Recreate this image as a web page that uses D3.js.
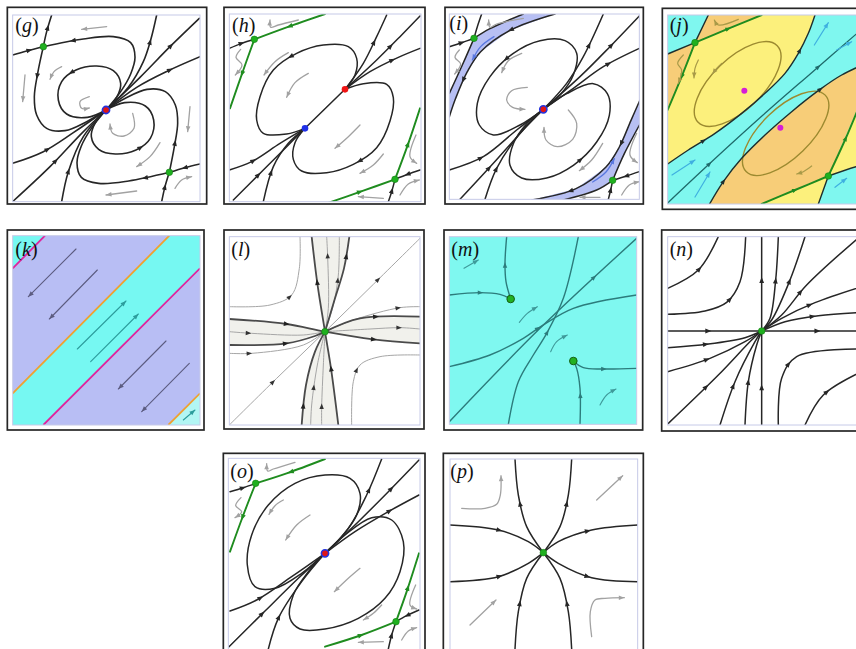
<!DOCTYPE html>
<html><head><meta charset="utf-8">
<script src="https://cdn.jsdelivr.net/npm/d3@7"></script>
<style>body{margin:0;background:#fff}svg{display:block}</style>
</head><body>
<svg id="c" width="856" height="649"></svg>
<script>
// ---------- panel (g) ----------
const gBlack = [
 [[[38,165],[80,153],[130,140]],[0.55]],
 [[[318,330],[362,275],[392,222],[405,172],[392,128],[340,110],[250,117],[130,140]],[0.82]],
 [[[130,140],[140,95],[155,45]],[0.6]],
 [[[130,140],[113,220],[103,290],[110,345],[140,385],[195,392],[260,365],[318,330]],[0.2]],
 [[[318,330],[350,292],[362,250],[340,212],[290,198],[228,210],[185,245],[175,300],[200,342],[262,352],[318,330]],[0.5]],
 [[[318,330],[286,368],[274,410],[296,448],[346,462],[408,450],[451,415],[461,360],[436,318],[374,308],[318,330]],[0.5]],
 [[[508,517],[386,543],[296,550],[244,532],[231,488],[244,438],[274,385],[318,330]],[0.15]],
 [[[508,517],[523,440],[533,370],[526,315],[496,275],[441,268],[376,295],[318,330]],[0.2]],
 [[[600,492],[555,503],[508,517]],[0.5]],
 [[[485,605],[495,560],[508,517]],[0.5]],
 [[[38,490],[130,455],[220,398],[318,330]],[0.35]],
 [[[40,603],[150,500],[245,400],[318,330]],[0.45]],
 [[[185,605],[205,515],[250,410],[318,330]],[0.3]],
 [[[318,330],[385,262],[430,185],[452,120],[470,45]],[0.75]],
 [[[318,330],[420,232],[510,140],[598,55]],[0.7]],
 [[[318,330],[410,262],[505,212],[600,170]],[0.7]]
];
const gHints = [
 [[320,80],[245,88]],
 [[185,200],[162,215],[150,238]],
 [[75,225],[68,305]],
 [[268,290],[240,305],[245,325],[268,324]],
 [[398,340],[402,385],[372,408],[338,400],[330,372]],
 [[570,320],[563,395]],
 [[480,428],[450,470],[410,500]],
 [[410,573],[318,585]],
 [[525,565],[545,540],[575,530]]
];
const gDots = [[318,330,'rb'],[130,140,'g'],[508,517,'g']];

// ---------- panel (h) ----------
const hBlack = [
 [[[375,268],[405,225],[410,175],[385,140],[310,135],[230,160],[160,210],[120,290],[110,360],[130,400],[200,402],[255,385]],[0.45]],
 [[[375,268],[430,251],[500,253],[520,293],[510,363],[470,443],[400,493],[320,518],[245,513],[220,478],[225,428],[255,385]],[0.55]],
 [[[255,385],[375,268]],[]],
 [[[28,510],[95,485],[180,430],[255,385]],[0.3]],
 [[[40,600],[130,510],[200,440],[255,385]],[0.35]],
 [[[130,605],[160,500],[205,430],[255,385]],[0.35]],
 [[[375,268],[430,190],[470,110],[500,45]],[0.65]],
 [[[375,268],[470,180],[540,110],[600,48]],[0.6]],
 [[[375,268],[450,215],[535,172],[600,145]],[0.65]],
 [[[28,145],[65,130],[103,118]],[0.5]],
 [[[600,510],[565,522],[525,538]],[0.5]],
 [[[505,605],[515,575],[525,538]],[0.5]]
];
const hGreen = [
 [[[315,42],[200,82],[103,118]],[0.5]],
 [[[103,118],[70,210],[30,325]],[0.5]],
 [[[525,538],[565,430],[600,325]],[0.5]],
 [[[315,612],[430,572],[525,538]],[0.5]]
];
const hHints = [
 [[205,158],[165,185],[132,225]],
 [[265,220],[225,248],[200,292]],
 [[420,375],[385,410],[345,445]],
 [[490,462],[460,495],[420,520]],
 [[235,60],[175,75],[152,82],[150,60]],
 [[62,148],[48,172],[66,195],[46,225]],
 [[588,405],[570,470],[590,490]],
 [[540,585],[565,552],[598,540]],
 [[490,595],[415,590]]
];
const hDots = [[375,268,'r'],[255,385,'b'],[103,118,'g'],[525,538,'g']];

// ---------- panel (i) ----------
const iBands = [
 [[250,42],[345,42],[212,90],[122,155],[82,215],[47,295],[28,350],[28,280],[67,195],[102,115],[150,86]],
 [[370,600],[275,600],[408,566],[498,501],[538,441],[573,361],[600,300],[600,372],[553,461],[518,541],[470,570]]
];
const iBlack = [
 [[[310,328],[360,285],[400,225],[410,160],[375,122],[300,122],[220,160],[150,230],[112,310],[118,375],[160,405],[240,375],[310,328]],[0.5]],
 [[[310,328],[260,371],[220,431],[210,496],[245,534],[320,534],[400,496],[470,426],[508,346],[502,281],[460,251],[380,281],[310,328]],[0.5]],
 [[[28,510],[130,470],[230,390],[310,328]],[0.3]],
 [[[60,598],[160,490],[245,395],[310,328]],[0.35]],
 [[[135,598],[170,505],[240,400],[310,328]],[0.3]],
 [[[310,328],[380,250],[430,170],[490,42]],[0.7]],
 [[[310,328],[420,230],[510,140],[598,48]],[0.7]],
 [[[310,328],[400,265],[490,200],[598,145]],[0.7]],
 [[[28,140],[65,128],[102,115]],[0.5]],
 [[[102,115],[112,80],[125,42]],[]],
 [[[598,515],[560,528],[518,541]],[0.5]],
 [[[505,598],[512,570],[518,541]],[0.5]],
 [[[345,42],[212,90],[122,155],[82,215],[47,295],[28,350]],[0.3,0.75]],
 [[[600,300],[573,361],[538,441],[498,501],[408,566],[275,600]],[0.3,0.75]],
 [[[102,115],[150,86],[250,42]],[]],
 [[[102,115],[67,195],[28,280]],[]],
 [[[518,541],[553,461],[600,372]],[]],
 [[[518,541],[470,570],[370,600]],[]]
];
const iHints = [
 [[262,262],[215,272],[200,300],[218,322],[255,328]],
 [[385,330],[410,370],[398,418],[352,440],[318,420],[312,382]],
 [[245,160],[205,182],[185,218]],
 [[488,430],[455,480],[418,512]],
 [[250,55],[170,72],[150,82],[146,60]],
 [[58,150],[45,172],[62,192],[44,222]],
 [[590,400],[570,465],[592,488]],
 [[545,585],[568,555],[598,545]],
 [[480,592],[420,592]]
];
const iBlueHints = [
 [[162,110],[122,140],[97,180]],
 [[458,546],[498,516],[523,476]]
];
const iDots = [[310,328,'rb'],[102,115,'g'],[518,541,'g']];

// ---------- panel (j) ----------
const jYellow = [
 [[120,128],[320,45],[480,45],[460,100],[430,160],[390,220],[330,280],[260,340],[180,400],[100,450],[38,492],[38,330]],
 [[320,612],[520,528],[490,612]],
 [[520,528],[612,315],[680,295],[680,485],[603,500]]
];
const jOrange = [
 [[38,162],[120,128],[38,330]],
 [[120,128],[160,45],[320,45]],
 [[162,615],[205,545],[260,475],[330,405],[410,335],[490,272],[560,225],[680,170],[680,295],[612,315],[520,528],[320,612]]
];
const jDark = [
 [[[38,492],[100,450],[180,400],[260,340],[330,280],[390,220],[430,160],[460,100],[480,45]],[0.2,0.82]],
 [[[162,615],[205,545],[260,475],[330,405],[410,335],[490,272],[560,225],[680,170]],[0.12,0.7]],
 [[[38,162],[120,128]],[]],
 [[[120,128],[160,45]],[]],
 [[[520,528],[490,612]],[]],
 [[[520,528],[603,500],[680,480]],[]]
];
const jTeal = [
 [[[38,609],[165,490],[330,340],[470,218],[620,88]],[0.22,0.78]]
];
const jGreen = [
 [[[120,128],[220,86],[320,45]],[0.5]],
 [[[120,128],[80,230],[38,330]],[0.5]],
 [[[520,528],[570,420],[620,300]],[0.5]],
 [[[320,612],[420,570],[520,528]],[0.5]]
];
const jOrbits = [[248,252,165,76,-44],[392,400,165,74,-44]];
const jCyanHints = [
 [[478,135],[520,68]],
 [[545,150],[590,125]],
 [[51,525],[120,480]],
 [[120,591],[165,516]],
 [[540,562],[575,535]]
];
const jOliveHints = [
 [[130,180],[120,205],[117,234]],
 [[200,190],[185,205],[172,222]],
 [[470,498],[445,515],[425,522]],
 [[250,58],[190,75],[178,60]],
 [[85,165],[68,190],[80,210],[70,250]]
];
const jDots = [[268,272,'m'],[376,383,'m'],[120,128,'g'],[520,528,'g']];

// ---------- panel (k) ----------
const kCyan = [
 [[38,505],[508,32],[600,32],[600,130],[130,600],[38,600]],
 [[38,32],[135,32],[38,130]]
];
const kPale = [[[505,600],[600,505],[600,600]]];
const kOrange = [[[38,505],[508,32]],[[505,600],[600,505]]];
const kMagenta = [[[38,130],[135,32]],[[130,600],[600,130]]];
const kDown = [[[228,72],[85,215]],[[292,135],[148,282]],[[498,348],[355,492]],[[568,415],[425,560]]];
const kUp = [[[232,372],[378,228]],[[272,410],[415,267]],[[550,585],[585,555]]];

// ---------- panel (l) ----------
const lBands = [
 [[275,35],[292,160],[315,320],[345,220],[372,130],[388,35]],
 [[245,600],[258,480],[285,380],[315,320],[335,450],[355,600]],
 [[28,282],[200,297],[315,320],[200,355],[28,360]],
 [[315,320],[420,280],[600,275],[600,355],[460,343]]
];
const lThick = [
 [[[355,600],[333,430],[315,320],[292,175],[275,35]],[0.3,0.76]],
 [[[28,282],[200,297],[315,320],[460,343],[600,355]],[0.3,0.76]],
 [[[315,320],[345,220],[372,130],[388,35]],[0.8]],
 [[[245,600],[258,480],[285,380],[315,320]],[0.2]],
 [[[28,360],[200,355],[285,333],[315,320]],[0.58]],
 [[[315,320],[420,280],[600,275]],[0.55]]
];
const lThin = [
 [[[28,600],[170,460],[315,320],[460,178],[600,40]],[0.23,0.78]],
 [[[315,320],[325,250],[323,95],[320,35]],[0.8]],
 [[[315,320],[340,240],[355,150],[358,35]],[0.55]],
 [[[305,600],[305,545],[310,420],[315,320]],[0.2]],
 [[[272,600],[275,540],[292,420],[315,320]],[0.4]],
 [[[28,320],[95,325],[250,330],[315,320]],[0.2]],
 [[[28,385],[95,385],[250,360],[315,320]],[0.2]],
 [[[315,320],[400,285],[540,248],[600,245]],[0.78]],
 [[[315,320],[450,312],[540,308],[600,312]],[0.78]],
 [[[28,245],[150,240],[215,210],[238,130],[240,35]],[0.5]],
 [[[395,600],[400,470],[420,420],[480,395],[600,390]],[0.45]]
];
const lDots = [[315,320,'g']];

// ---------- panel (m) ----------
const mLines = [
 [[[28,210],[120,203],[180,208],[212,222]],[0.5]],
 [[[212,222],[198,170],[195,115],[200,35]],[0.55]],
 [[[400,408],[430,428],[490,432],[590,430]],[0.5]],
 [[[420,598],[420,490],[410,430],[400,408]],[0.45]],
 [[[28,590],[300,310],[590,40]],[0.78]],
 [[[28,425],[150,390],[250,340],[302,305],[400,250],[590,210]],[0.48]],
 [[[205,598],[235,470],[280,390],[320,325],[370,220],[415,35]],[0.5]]
];
const mHints = [[[72,130],[115,105]],[[238,292],[262,265],[292,245]],[[332,380],[350,350],[382,330]],[[480,540],[500,510],[528,492]]];
const mDots = [[212,222,'G'],[400,408,'G']];

// ---------- panel (n) ----------
const nLines = [
 [[[320,600],[320,318],[320,35]],[0.2,0.77]],
 [[[38,318],[320,318],[600,318],[680,318]],[0.19,0.7]],
 [[[38,368],[160,357],[270,338],[320,318]],[0.4]],
 [[[38,440],[165,400],[270,350],[320,318]],[0.4]],
 [[[40,595],[190,450],[290,345],[320,318]],[0.4]],
 [[[195,600],[240,470],[300,350],[320,318]],[0.4]],
 [[[270,600],[280,470],[305,360],[320,318]],[0.45]],
 [[[320,318],[345,280],[362,165],[370,35]],[0.55]],
 [[[320,318],[350,285],[405,165],[450,35]],[0.55]],
 [[[320,318],[380,270],[455,180],[620,30]],[0.4]],
 [[[320,318],[380,280],[480,233],[620,185]],[0.5]],
 [[[320,318],[390,290],[490,272],[620,262]],[0.52]],
 [[[38,190],[130,135],[190,35]],[0.5]],
 [[[38,268],[150,258],[215,232],[255,170],[272,35]],[0.5]],
 [[[370,600],[380,460],[425,395],[620,372]],[0.45]],
 [[[450,600],[505,510],[620,440]],[0.5]]
];
const nDots = [[320,318,'g']];

// ---------- panel (o) ----------
const oBlack = [
 [[[330,325],[380,275],[425,210],[435,145],[405,100],[330,90],[240,115],[160,180],[110,270],[97,360],[120,425],[180,430],[260,385],[330,325]],[]],
 [[[330,325],[280,380],[235,450],[225,520],[255,552],[330,552],[430,520],[510,460],[555,380],[565,290],[530,225],[470,218],[390,270],[330,325]],[]],
 [[[45,498],[125,465],[230,395],[330,325]],[0.3]],
 [[[42,605],[150,498],[250,400],[330,325]],[0.35]],
 [[[160,612],[190,520],[260,410],[330,325]],[0.3]],
 [[[330,325],[400,250],[455,150],[500,42]],[0.7]],
 [[[330,325],[430,230],[520,140],[612,45]],[0.7]],
 [[[330,325],[420,260],[520,200],[612,150]],[0.7]],
 [[[45,140],[85,128],[122,115]],[0.5]],
 [[[612,495],[575,512],[543,530]],[0.5]],
 [[[520,612],[530,570],[543,530]],[0.5]]
];
const oGreen = [
 [[[330,42],[215,85],[122,115]],[0.5]],
 [[[122,115],[85,210],[45,320]],[0.5]],
 [[[543,530],[575,440],[612,325]],[0.5]],
 [[[330,605],[440,570],[543,530]],[0.5]]
];
const oHints = [
 [[205,165],[180,182],[162,208]],
 [[285,210],[245,240],[212,285]],
 [[435,370],[400,400],[358,440]],
 [[500,480],[475,505],[445,525]],
 [[240,52],[175,72],[158,78],[155,56]],
 [[78,158],[62,182],[80,200],[60,218]],
 [[602,420],[585,480],[605,492]],
 [[560,585],[580,558],[605,548]],
 [[505,590],[430,592]]
];
const oDots = [[330,325,'rb'],[122,115,'g'],[543,530,'g']];

// ---------- panel (p) ----------
const pBlack = [
 [[[45,240],[190,255],[280,290],[325,323]],[0.5]],
 [[[45,410],[190,395],[280,355],[325,323]],[0.5]],
 [[[325,323],[370,290],[470,255],[608,240]],[0.5]],
 [[[325,323],[370,355],[470,398],[608,410]],[0.5]],
 [[[240,612],[250,500],[275,400],[325,323]],[0.45]],
 [[[410,612],[400,500],[375,400],[325,323]],[0.45]],
 [[[325,323],[275,245],[250,150],[240,42]],[0.55]],
 [[[325,323],[375,245],[400,150],[410,42]],[0.55]]
];
const pHints = [
 [[80,190],[150,190],[185,178],[196,150],[198,92]],
 [[485,165],[563,92]],
 [[105,540],[183,465]],
 [[470,575],[466,500],[480,465],[510,460],[568,458]]
];
const pDots = [[325,323,'g']];

// ---------- layout ----------
const panels = [
 {id:'g', crop:[0,0],     frame:[22,22,620,612], inner:[38,45,600,605], lab:[46,95]},
 {id:'h', crop:[220,0],   frame:[12,22,615,612], inner:[28,42,603,605], lab:[36,95]},
 {id:'i', crop:[440,0],   frame:[15,22,610,612], inner:[28,42,598,598], lab:[28,90]},
 {id:'j', crop:[655,0],   frame:[22,25,680,628], inner:[38,45,665,612], lab:[44,95]},
 {id:'k', crop:[0,225],   frame:[22,15,612,615], inner:[38,32,600,600], lab:[46,92]},
 {id:'l', crop:[220,225], frame:[12,15,612,612], inner:[28,35,600,600], lab:[34,92]},
 {id:'m', crop:[440,225], frame:[12,15,608,615], inner:[28,35,590,598], lab:[34,92]},
 {id:'n', crop:[655,225], frame:[20,15,680,618], inner:[38,35,665,600], lab:[44,92]},
 {id:'o', crop:[215,445], frame:[25,25,630,700], inner:[40,40,615,690], lab:[46,100]},
 {id:'p', crop:[435,445], frame:[25,25,625,700], inner:[45,42,608,690], lab:[46,100]}
];

const svg = d3.select('#c');
const defs = svg.append('defs');

function head(g, node, t, color, len, wid){
  const L = node.getTotalLength();
  const s = Math.max(0, Math.min(L, t*L));
  const a = node.getPointAtLength(Math.max(0, s-1.5));
  const b = node.getPointAtLength(Math.min(L, s+1.5));
  const ang = Math.atan2(b.y-a.y, b.x-a.x);
  const p = node.getPointAtLength(s);
  const cx = Math.cos(ang), cy = Math.sin(ang);
  let tx, ty;
  if (t >= 1) { tx = p.x; ty = p.y; } else { tx = p.x + cx*len/2; ty = p.y + cy*len/2; }
  const bx = tx - cx*len, by = ty - cy*len;
  g.append('path')
   .attr('d', `M${tx},${ty}L${bx - cy*wid},${by + cx*wid}L${bx + cy*wid},${by - cx*wid}Z`)
   .attr('fill', color);
}

function makePanel(P){
  const sx = d3.scaleLinear().domain([0,645]).range([P.crop[0], P.crop[0]+215]);
  const sy = d3.scaleLinear().domain([0,645]).range([P.crop[1], P.crop[1]+215]);
  const g = svg.append('g');
  const [a,b,c,d] = P.frame, [e,f,h,i] = P.inner;
  g.append('rect').attr('x',sx(a)).attr('y',sy(b)).attr('width',sx(c)-sx(a)).attr('height',sy(d)-sy(b)).attr('fill','#fff');
  defs.append('clipPath').attr('id','cp'+P.id).append('rect')
    .attr('x',sx(e)).attr('y',sy(f)).attr('width',sx(h)-sx(e)).attr('height',sy(i)-sy(f));
  const body = g.append('g').attr('clip-path', `url(#cp${P.id})`);
  const ln = d3.line().x(p=>sx(p[0])).y(p=>sy(p[1])).curve(d3.curveCatmullRom.alpha(0.5));
  const poly = d3.line().x(p=>sx(p[0])).y(p=>sy(p[1])).curve(d3.curveLinearClosed);
  return {P, sx, sy, g, body, ln, poly};
}
function bg(ctx, color){
  const [e,f,h,i] = ctx.P.inner;
  ctx.body.append('rect').attr('x',ctx.sx(e)).attr('y',ctx.sy(f))
    .attr('width',ctx.sx(h)-ctx.sx(e)).attr('height',ctx.sy(i)-ctx.sy(f)).attr('fill',color);
}
function fills(ctx, polys, color, stroke){
  polys.forEach(p => ctx.body.append('path').attr('d', ctx.poly(p)).attr('fill', color)
    .attr('stroke', stroke || 'none').attr('stroke-width', 0.8));
}
function curves(ctx, list, color, w, hl, hw, hcolor){
  list.forEach(([pts, ats]) => {
    const path = ctx.body.append('path').attr('d', ctx.ln(pts)).attr('fill','none')
      .attr('stroke', color).attr('stroke-width', w).attr('stroke-linecap','round');
    ats.forEach(t => head(ctx.body, path.node(), t, hcolor || color, hl, hw));
  });
}
function hints(ctx, list, color, w){
  list.forEach(pts => {
    const path = ctx.body.append('path').attr('d', ctx.ln(pts)).attr('fill','none')
      .attr('stroke', color).attr('stroke-width', w).attr('stroke-linecap','round');
    head(ctx.body, path.node(), 1, color, 5.5, 2.3);
  });
}
function straight(ctx, list, color, w){
  list.forEach(pts => ctx.body.append('path').attr('d', ctx.ln(pts)).attr('fill','none')
    .attr('stroke', color).attr('stroke-width', w));
}
function dots(ctx, list){
  list.forEach(([x,y,t]) => {
    const X = ctx.sx(x), Y = ctx.sy(y);
    if (t === 'rb') {
      ctx.g.append('circle').attr('cx',X).attr('cy',Y).attr('r',3.6).attr('fill','#e01515').attr('stroke','#2233e0').attr('stroke-width',1.6);
    } else if (t === 'r') {
      ctx.g.append('circle').attr('cx',X).attr('cy',Y).attr('r',3.3).attr('fill','#f01515');
    } else if (t === 'b') {
      ctx.g.append('circle').attr('cx',X).attr('cy',Y).attr('r',3.3).attr('fill','#1f30e8');
    } else if (t === 'm') {
      ctx.g.append('circle').attr('cx',X).attr('cy',Y).attr('r',3.0).attr('fill','#d61ed6');
    } else if (t === 'G') {
      ctx.g.append('circle').attr('cx',X).attr('cy',Y).attr('r',3.8).attr('fill','#22b022').attr('stroke','#156015').attr('stroke-width',1);
    } else {
      ctx.g.append('circle').attr('cx',X).attr('cy',Y).attr('r',3.3).attr('fill','#1fb01f').attr('stroke','#168016').attr('stroke-width',0.6);
    }
  });
}
function finish(ctx){
  const {sx, sy, g, P} = ctx;
  const [a,b,c,d] = P.frame, [e,f,h,i] = P.inner;
  g.append('rect').attr('x',sx(e)).attr('y',sy(f)).attr('width',sx(h)-sx(e)).attr('height',sy(i)-sy(f))
    .attr('fill','none').attr('stroke','#c6cae8').attr('stroke-width',1);
  g.append('rect').attr('x',sx(a)).attr('y',sy(b)).attr('width',sx(c)-sx(a)).attr('height',sy(d)-sy(b))
    .attr('fill','none').attr('stroke','#262626').attr('stroke-width',1.7);
  const t = g.append('text').attr('x',sx(P.lab[0])).attr('y',sy(P.lab[1]))
    .attr('font-family','"Liberation Serif","DejaVu Serif",serif').attr('font-size',20).attr('fill','#111');
  t.append('tspan').text('(');
  t.append('tspan').attr('font-style','italic').text(P.id);
  t.append('tspan').text(')');
}

const K = '#262626', GREEN = '#1f8c1f', HINT = '#a2a2a2';
const ctxs = {};
panels.forEach(P => { ctxs[P.id] = makePanel(P); });

// (g)
let c = ctxs.g;
curves(c, gBlack, K, 1.6, 6, 2.4);
hints(c, gHints, HINT, 1.3);
dots(c, gDots); finish(c);

// (h)
c = ctxs.h;
curves(c, hBlack, K, 1.5, 6, 2.4);
curves(c, hGreen, GREEN, 1.9, 6, 2.4);
hints(c, hHints, HINT, 1.3);
dots(c, hDots); finish(c);

// (i)
c = ctxs.i;
fills(c, iBands, '#b7bff3');
curves(c, iBlack, K, 1.5, 6, 2.4);
hints(c, iHints, HINT, 1.3);
hints(c, iBlueHints, '#5a78e0', 1.3);
dots(c, iDots); finish(c);

// (j)
c = ctxs.j;
bg(c, '#7ff7ef');
fills(c, jYellow, '#fcf07c');
fills(c, jOrange, '#f7cd78');
jOrbits.forEach(([x,y,rx,ry,ang]) => {
  c.body.append('ellipse').attr('cx',c.sx(x)).attr('cy',c.sy(y))
    .attr('rx',c.sx(rx)-c.sx(0)).attr('ry',c.sy(ry)-c.sy(0))
    .attr('transform',`rotate(${ang},${c.sx(x)},${c.sy(y)})`)
    .attr('fill','none').attr('stroke','#9c8a30').attr('stroke-width',1.4);
});
curves(c, jTeal, '#1f6b6b', 1.3, 5.5, 2.2);
curves(c, jDark, '#1d2f2f', 1.4, 5.5, 2.2);
curves(c, jGreen, GREEN, 1.9, 5.5, 2.2);
hints(c, jCyanHints, '#3fb0e0', 1.2);
hints(c, jOliveHints, '#a89a48', 1.2);
dots(c, jDots); finish(c);

// (k)
c = ctxs.k;
bg(c, '#b8bef4');
fills(c, kCyan, '#76f8f2');
fills(c, kPale, '#b2f6f4');
straight(c, kOrange, '#f0a030', 1.8);
straight(c, kMagenta, '#e0239c', 1.8);
hints(c, kDown, '#5c5c80', 1.1);
hints(c, kUp, '#2c9c9c', 1.1);
finish(c);

// (l)
c = ctxs.l;
fills(c, lBands, '#f1f1ec');
curves(c, lThin, '#a6a6a6', 1.0, 5.5, 2.2, '#333');
curves(c, lThick, '#4a4a4a', 1.8, 6, 2.4, '#222');
dots(c, lDots); finish(c);

// (m)
c = ctxs.m;
bg(c, '#7ff8f0');
curves(c, mLines, '#2c7c7c', 1.4, 5.5, 2.2);
hints(c, mHints, '#3f9a9a', 1.1);
dots(c, mDots); finish(c);

// (n)
c = ctxs.n;
curves(c, nLines, K, 1.5, 6, 2.4);
dots(c, nDots); finish(c);

// (o)
c = ctxs.o;
curves(c, oBlack, K, 1.5, 6, 2.4);
curves(c, oGreen, GREEN, 1.9, 6, 2.4);
hints(c, oHints, HINT, 1.3);
dots(c, oDots); finish(c);

// (p)
c = ctxs.p;
curves(c, pBlack, K, 1.5, 6, 2.4);
hints(c, pHints, HINT, 1.3);
dots(c, pDots); finish(c);
</script></body></html>
